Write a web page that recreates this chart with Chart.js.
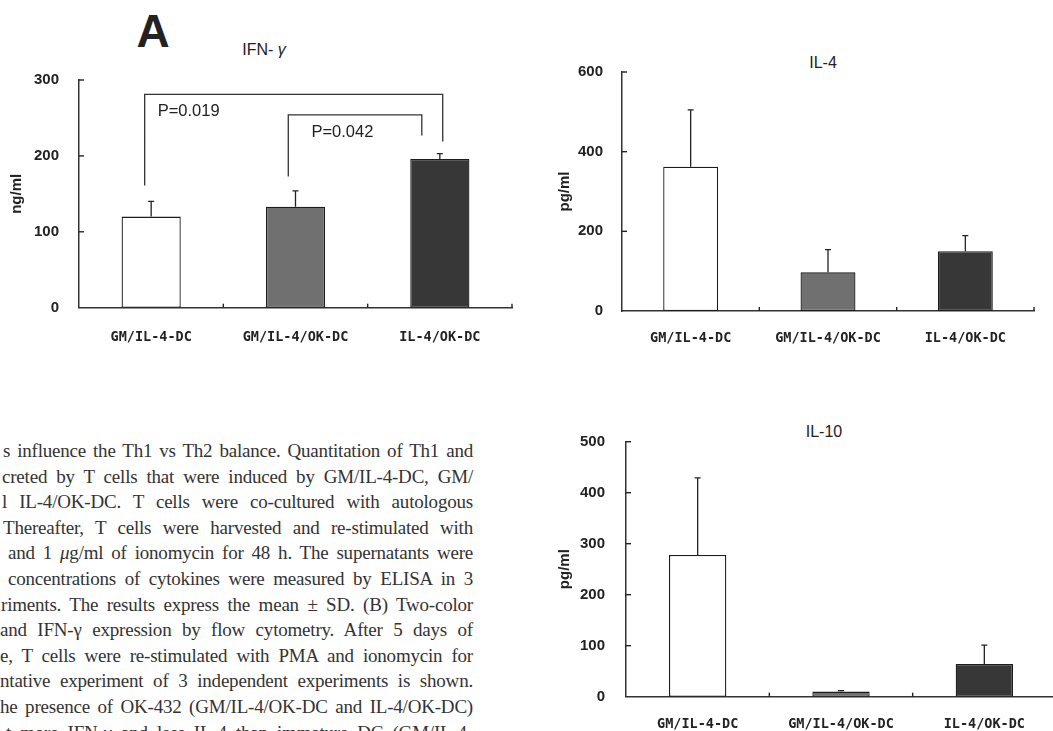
<!DOCTYPE html>
<html lang="en">
<head>
<meta charset="UTF-8">
<title>Th1 / Th2 cytokines</title>
<script src="https://cdn.jsdelivr.net/npm/chart.js"></script>
<style>
  html, body { margin: 0; padding: 0; background: #fff; }
  body { width: 1053px; height: 731px; overflow: hidden; position: relative; font-family: "Liberation Sans", Arial, sans-serif; }
  canvas { position: absolute; }
  .lbl { position: absolute; transform: translate(-50%, -50%); line-height: 1; white-space: nowrap; color: #222; }
  .caption { position: absolute; left: 0; top: 438px; width: 473px; font-family: "Liberation Serif", "Times New Roman", serif; font-size: 19px; letter-spacing: -0.2px; line-height: 25.6px; color: #333; }
  .caption div { text-align: justify; text-align-last: justify; height: 25.6px; }
</style>
</head>
<body>
  <div class="lbl" style="left:153px; top:31px; font-size:46px; font-weight:bold;">A</div>
  <div class="lbl" style="left:264px; top:50px; font-size:16px;">IFN- <i>γ</i></div>
  <div class="lbl" style="left:823px; top:63px; font-size:16px;">IL-4</div>
  <div class="lbl" style="left:824px; top:432px; font-size:16px;">IL-10</div>

  <canvas id="ifn" width="530" height="360" style="left:0; top:0;"></canvas>
  <canvas id="il4" width="513" height="360" style="left:540px; top:0;"></canvas>
  <canvas id="il10" width="530" height="360" style="left:540px; top:380px;"></canvas>

  <div class="caption">
    <div style="margin-left:3px">s influence the Th1 vs Th2 balance. Quantitation of Th1 and</div>
    <div style="margin-left:2px">creted by T cells that were induced by GM/IL-4-DC, GM/</div>
    <div style="margin-left:2px">l IL-4/OK-DC. T cells were co-cultured with autologous</div>
    <div style="margin-left:3px">Thereafter, T cells were harvested and re-stimulated with</div>
    <div style="margin-left:8px">and 1 <i>μ</i>g/ml of ionomycin for 48 h. The supernatants were</div>
    <div style="margin-left:8px">concentrations of cytokines were measured by ELISA in 3</div>
    <div style="margin-left:1px">riments. The results express the mean ± SD. (B) Two-color</div>
    <div style="margin-left:0">and IFN-γ expression by flow cytometry. After 5 days of</div>
    <div style="margin-left:0">e, T cells were re-stimulated with PMA and ionomycin for</div>
    <div style="margin-left:0">ntative experiment of 3 independent experiments is shown.</div>
    <div style="margin-left:0">he presence of OK-432 (GM/IL-4/OK-DC and IL-4/OK-DC)</div>
    <div style="margin-left:6px">t more IFN-γ and less IL-4 than immature DC (GM/IL-4-</div>
  </div>

<script>
  // groups and colours
  const groups = ['GM/IL-4-DC', 'GM/IL-4/OK-DC', 'IL-4/OK-DC'];
  const barColors = ['#ffffff', '#707070', '#373737'];

  // IFN-γ (ng/ml)
  const ifnMean = [120, 133, 196];
  const ifnSd = [20, 21, 7];
  const ifnTicks = [0, 100, 200, 300];

  // IL-4 (pg/ml)
  const il4Mean = [362, 97, 150];
  const il4Sd = [143, 57, 39];
  const il4Ticks = [0, 200, 400, 600];

  // IL-10 (pg/ml)
  const il10Mean = [278, 10, 64];
  const il10Sd = [151, 2, 37];
  const il10Ticks = [0, 100, 200, 300, 400, 500];

  // significance brackets on the IFN-γ panel (x in category units, y in ng/ml)
  const pLabels = ['P=0.019', 'P=0.042'];
  const pFrom = [-0.045, 0.95];
  const pTo = [2.02, 1.875];
  const pLevel = [281, 254];
  const pFootL = [161, 173];
  const pFootR = [219, 227];
  const pTextX = [0.045, 1.11];
  const pTextY = [258, 231];

  const ink = '#222';

  // error bars, inward tick marks and brackets
  const marks = {
    id: 'marks',
    afterDatasetsDraw(chart, args, opts) {
      const ctx = chart.ctx;
      const x = chart.scales.x, y = chart.scales.y;
      ctx.save();
      ctx.strokeStyle = ink;
      ctx.lineWidth = 1.3;

      // error bars (upper whisker only)
      opts.mean.forEach((m, i) => {
        const px = x.getPixelForValue(i);
        const y0 = y.getPixelForValue(m);
        const y1 = y.getPixelForValue(m + opts.sd[i]);
        ctx.beginPath();
        ctx.moveTo(px, y0); ctx.lineTo(px, y1);
        ctx.moveTo(px - 3, y1); ctx.lineTo(px + 3, y1);
        ctx.stroke();
      });

      // y ticks pointing inward
      ctx.lineWidth = 1.4;
      y.ticks.forEach(t => {
        if (t.value === 0) return;
        const py = y.getPixelForValue(t.value);
        ctx.beginPath();
        ctx.moveTo(x.left, py); ctx.lineTo(x.left + 5, py);
        ctx.stroke();
      });
      // category boundaries on the x axis
      for (let i = 0; i < groups.length; i++) {
        const px = x.getPixelForValue(i + 0.5);
        ctx.beginPath();
        ctx.moveTo(px, y.bottom); ctx.lineTo(px, y.bottom - 4);
        ctx.stroke();
      }

      // brackets
      (opts.brackets || []).forEach(b => {
        const xl = x.getPixelForValue(b.from), xr = x.getPixelForValue(b.to);
        const yl = y.getPixelForValue(b.level);
        ctx.strokeStyle = '#333';
        ctx.lineWidth = 1.3;
        ctx.beginPath();
        ctx.moveTo(xl, y.getPixelForValue(b.footL));
        ctx.lineTo(xl, yl);
        ctx.lineTo(xr, yl);
        ctx.lineTo(xr, y.getPixelForValue(b.footR));
        ctx.stroke();
        ctx.fillStyle = ink;
        ctx.font = '16.5px "Liberation Sans", Arial, sans-serif';
        ctx.textAlign = 'left';
        ctx.textBaseline = 'middle';
        ctx.fillText(b.text, x.getPixelForValue(b.tx), y.getPixelForValue(b.ty));
      });
      ctx.restore();
    }
  };

  function makeChart(id, mean, sd, ticks, unit, fit, brackets) {
    return new Chart(document.getElementById(id), {
      type: 'bar',
      data: {
        labels: groups,
        datasets: [{
          data: mean,
          backgroundColor: barColors,
          borderColor: '#1c1c1c',
          borderWidth: 1.3,
          borderSkipped: false,
          barPercentage: fit.bar,
          categoryPercentage: 1
        }]
      },
      options: {
        responsive: false,
        animation: false,
        events: [],
        layout: { padding: { left: 0, top: fit.top, right: fit.right, bottom: 0 } },
        plugins: {
          legend: { display: false },
          tooltip: { enabled: false },
          marks: { mean: mean, sd: sd, brackets: brackets }
        },
        scales: {
          x: {
            grid: { display: false, drawTicks: false },
            border: { display: true, color: '#333', width: 1.5 },
            ticks: {
              color: ink, padding: fit.xPad, maxRotation: 0, autoSkip: false,
              font: { family: '"DejaVu Sans Mono", monospace', size: 13.5, weight: 'bold' }
            },
            afterFit: s => { s.height = fit.xH; }
          },
          y: {
            min: 0,
            max: ticks[ticks.length - 1],
            afterBuildTicks: s => { s.ticks = ticks.map(v => ({ value: v })); },
            grid: { display: false, drawTicks: false },
            border: { display: true, color: '#333', width: 1.5 },
            ticks: {
              color: ink, padding: fit.yPad,
              font: { family: '"Liberation Sans", Arial, sans-serif', size: 15, weight: 'bold' }
            },
            title: {
              display: true, text: unit, color: ink,
              font: { family: '"Liberation Sans", Arial, sans-serif', size: 15, weight: 'bold' },
              padding: { top: fit.tPad, bottom: 0 }
            },
            afterFit: s => { s.width = fit.yW; }
          }
        }
      },
      plugins: [marks]
    });
  }

  const ifnBrackets = pLabels.map((t, i) => ({
    text: t, from: pFrom[i], to: pTo[i], level: pLevel[i],
    footL: pFootL[i], footR: pFootR[i], tx: pTextX[i], ty: pTextY[i]
  }));

  makeChart('ifn', ifnMean, ifnSd, ifnTicks, 'ng/ml',
    { top: 80, right: 18, xH: 52.3, yW: 79, xPad: 21.5, yPad: 20, tPad: 8, bar: 0.41 }, ifnBrackets);
  makeChart('il4', il4Mean, il4Sd, il4Ticks, 'pg/ml',
    { top: 72, right: 19, xH: 49, yW: 82, xPad: 19, yPad: 19, tPad: 16, bar: 0.40 });
  makeChart('il10', il10Mean, il10Sd, il10Ticks, 'pg/ml',
    { top: 61.7, right: 14, xH: 43.3, yW: 86, xPad: 19.5, yPad: 21, tPad: 16, bar: 0.40 });
</script>
</body>
</html>
